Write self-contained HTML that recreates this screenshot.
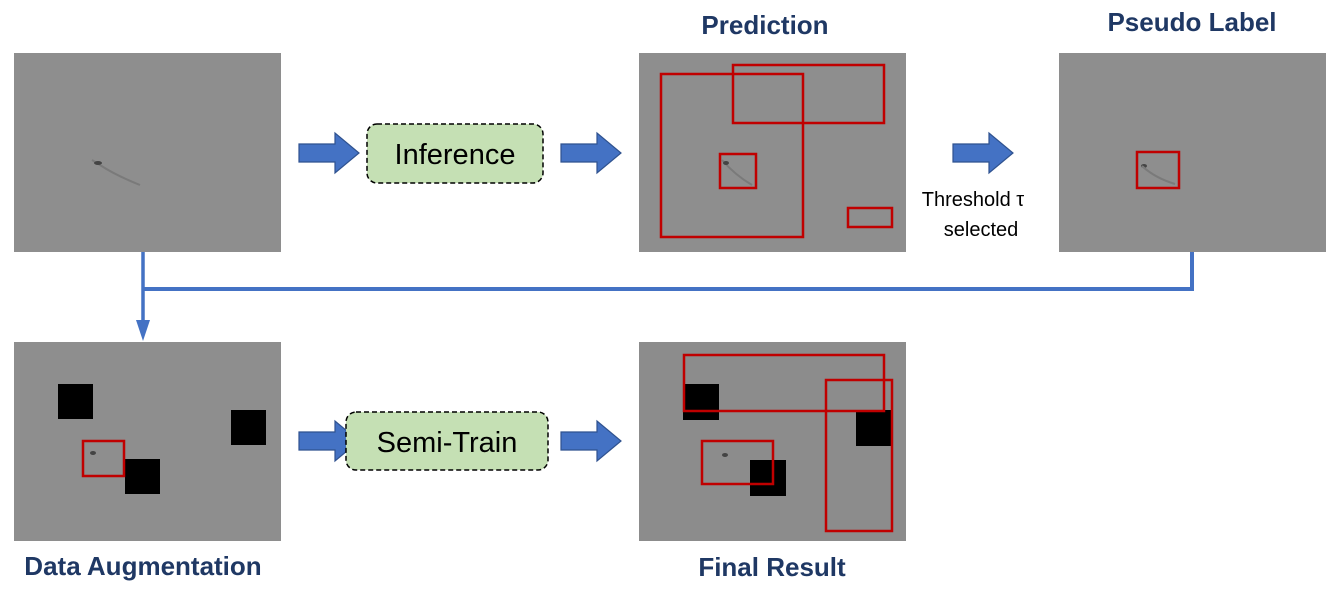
<!DOCTYPE html>
<html><head><meta charset="utf-8"><style>
html,body{margin:0;padding:0;background:#fff;}
svg{display:block;}
</style></head><body>
<svg width="1326" height="597" viewBox="0 0 1326 597" xmlns="http://www.w3.org/2000/svg">
<defs>
<g id="arr"><polygon points="0,-9 36,-9 36,-20 60,0 36,20 36,9 0,9" fill="#4472c4" stroke="#2f528f" stroke-width="1.2"/></g>
</defs>
<g font-family="Liberation Sans, sans-serif">
<rect x="14" y="53" width="267" height="199" fill="#8e8e8e"/>
<rect x="639" y="53" width="267" height="199" fill="#8e8e8e"/>
<rect x="1059" y="53" width="267" height="199" fill="#8e8e8e"/>
<rect x="14" y="342" width="267" height="199" fill="#8e8e8e"/>
<rect x="639" y="342" width="267" height="199" fill="#8c8c8c"/>
<path d="M92 160 L100 165 Q115 175 140 185" stroke="#7a7a7a" stroke-width="2" fill="none"/>
<ellipse cx="98" cy="163" rx="4" ry="2" fill="#444"/>
<path d="M722 160 Q735 175 752 185" stroke="#7a7a7a" stroke-width="2" fill="none"/>
<ellipse cx="726" cy="163" rx="3" ry="2" fill="#444"/>
<ellipse cx="1144" cy="166" rx="3" ry="2" fill="#444"/>
<path d="M1142 166 Q1155 178 1175 184" stroke="#7a7a7a" stroke-width="2" fill="none"/>
<ellipse cx="93" cy="453" rx="3" ry="2" fill="#444"/>
<ellipse cx="725" cy="455" rx="3" ry="2" fill="#444"/>
<rect x="58" y="384" width="35" height="35" fill="#000"/>
<rect x="231" y="410" width="35" height="35" fill="#000"/>
<rect x="125" y="459" width="35" height="35" fill="#000"/>
<rect x="683" y="384" width="36" height="36" fill="#000"/>
<rect x="856" y="410" width="35" height="36" fill="#000"/>
<rect x="750" y="460" width="36" height="36" fill="#000"/>
<g fill="none" stroke="#c00000" stroke-width="2.5">
<rect x="661" y="74" width="142" height="163"/>
<rect x="733" y="65" width="151" height="58"/>
<rect x="720" y="154" width="36" height="34"/>
<rect x="848" y="208" width="44" height="19"/>
<rect x="1137" y="152" width="42" height="36"/>
<rect x="83" y="441" width="41" height="35"/>
<rect x="684" y="355" width="200" height="56"/>
<rect x="826" y="380" width="66" height="151"/>
<rect x="702" y="441" width="71" height="43"/>
</g>
<use href="#arr" x="299" y="153"/>
<use href="#arr" x="561" y="153"/>
<use href="#arr" x="953" y="153"/>
<use href="#arr" x="299" y="441"/>
<use href="#arr" x="561" y="441"/>
<rect x="367" y="124" width="176" height="59" rx="10" fill="#c5e0b4" stroke="#000" stroke-width="1.5" stroke-dasharray="5,3"/>
<text x="455" y="164" font-size="29" text-anchor="middle" fill="#000">Inference</text>
<rect x="346" y="412" width="202" height="58" rx="10" fill="#c5e0b4" stroke="#000" stroke-width="1.5" stroke-dasharray="5,3"/>
<text x="447" y="452" font-size="29" text-anchor="middle" fill="#000">Semi-Train</text>
<polyline points="1192,252 1192,289 143,289" fill="none" stroke="#4472c4" stroke-width="4"/>
<line x1="143" y1="252" x2="143" y2="322" stroke="#4472c4" stroke-width="3.5"/>
<polygon points="136,320 150,320 143,341" fill="#4472c4"/>
<text x="973" y="206" font-size="20" text-anchor="middle" fill="#000">Threshold τ</text>
<text x="981" y="236" font-size="20" text-anchor="middle" fill="#000">selected</text>
<g font-weight="bold" font-size="26" fill="#1f3864" text-anchor="middle">
<text x="765" y="34">Prediction</text>
<text x="1192" y="31">Pseudo Label</text>
<text x="143" y="575">Data Augmentation</text>
<text x="772" y="576">Final Result</text>
</g>
</g>
</svg>
</body></html>
